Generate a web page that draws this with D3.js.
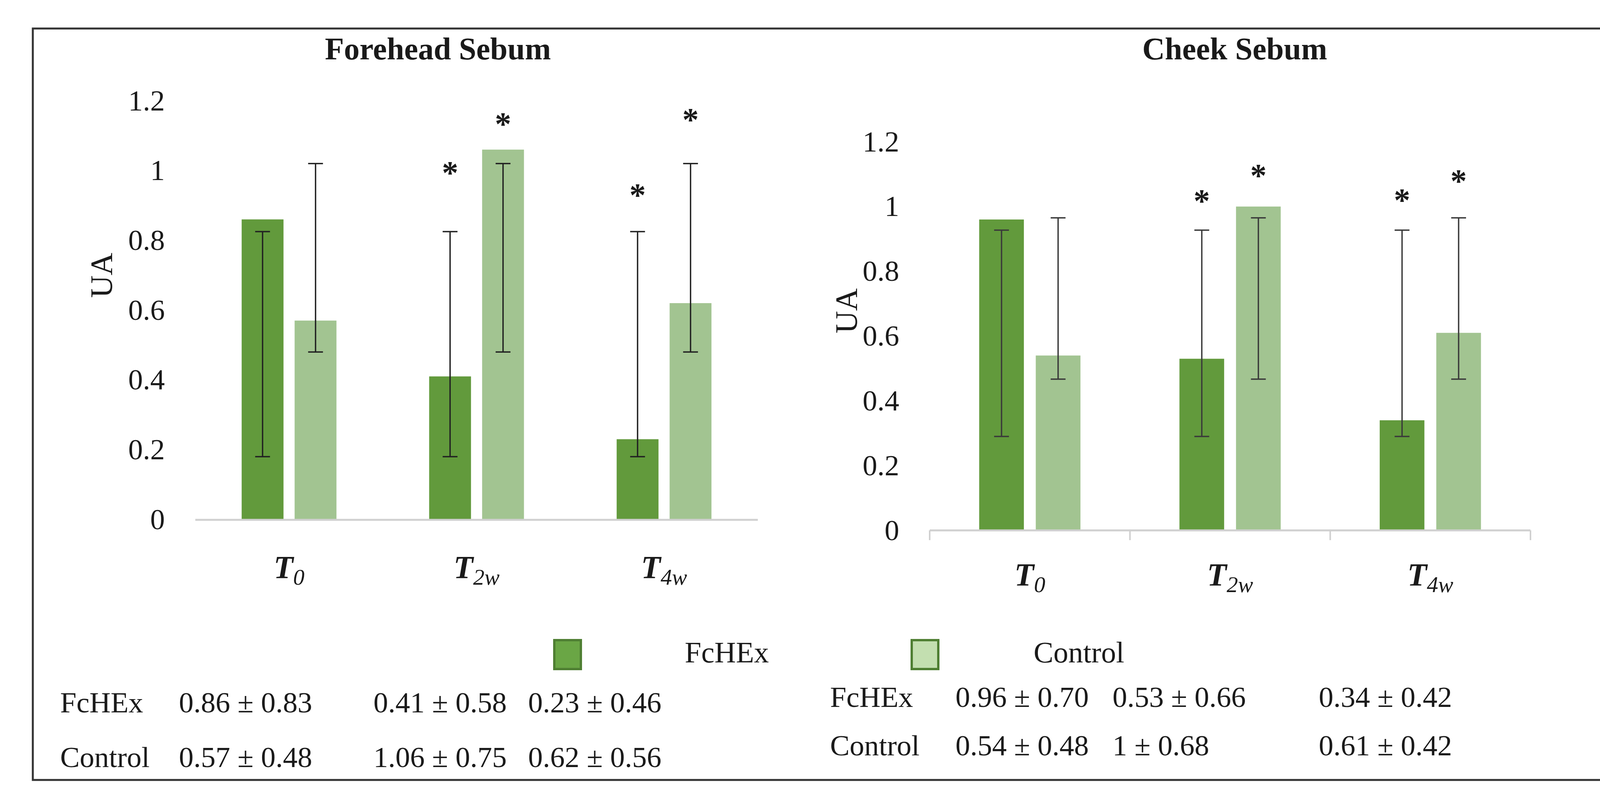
<!DOCTYPE html>
<html>
<head>
<meta charset="utf-8">
<script src="https://cdn.jsdelivr.net/npm/d3@7"></script>
<style>
  html, body { margin: 0; padding: 0; background: #fff; }
  svg { display: block; }
  text { font-family: "Palatino Linotype", "Book Antiqua", Palatino, "Liberation Serif", serif; fill: #1a1a1a; }
</style>
</head>
<body>
<svg id="chart"></svg>
<script>
// ---------------- DATA ----------------
const categories = ["T0", "T2w", "T4w"];
const series = ["FcHEx", "Control"];
const yTicks = [0, 0.2, 0.4, 0.6, 0.8, 1, 1.2];

const foreheadFcHEx = [0.86, 0.41, 0.23];
const foreheadControl = [0.57, 1.06, 0.62];
const foreheadFcHExSD = [0.83, 0.58, 0.46];
const foreheadControlSD = [0.48, 0.75, 0.56];

const cheekFcHEx = [0.96, 0.53, 0.34];
const cheekControl = [0.54, 1, 0.61];
const cheekFcHExSD = [0.70, 0.66, 0.42];
const cheekControlSD = [0.48, 0.68, 0.42];

// error bar ends as drawn in the figure (low, high)
const foreheadFcHExErr = [[0.18, 0.825], [0.18, 0.825], [0.18, 0.825]];
const foreheadControlErr = [[0.48, 1.02], [0.48, 1.02], [0.48, 1.02]];
const cheekFcHExErr = [[0.29, 0.927], [0.29, 0.927], [0.29, 0.927]];
const cheekControlErr = [[0.467, 0.965], [0.467, 0.965], [0.467, 0.965]];

// significance marks (value level of the asterisk, null = none)
const foreheadFcHExStar = [null, 1.006, 0.942];
const foreheadControlStar = [null, 1.146, 1.159];
const cheekFcHExStar = [null, 1.031, 1.033];
const cheekControlStar = [null, 1.109, 1.093];

// ---------------- LAYOUT / STYLE ----------------
const W = 4348, H = 2056;
const colors = { FcHEx: "#629a3c", Control: "#a2c491" };
const legendColors = { FcHEx: "#6aa645", Control: "#c3dfb0" };

const panels = [
  {
    title: "Forehead Sebum", titleX: 1121, titleY: 152,
    xRange: [500, 1940], yRange: [1330, 258], axisY: 1331, ticks: false,
    uaX: 260, uaY: 705, labelY: 1480, errColor: "#222",
    values: { FcHEx: foreheadFcHEx, Control: foreheadControl },
    sds: { FcHEx: foreheadFcHExSD, Control: foreheadControlSD },
    errs: { FcHEx: foreheadFcHExErr, Control: foreheadControlErr },
    stars: { FcHEx: foreheadFcHExStar, Control: foreheadControlStar },
    table: { labelX: 154, colX: [458, 956, 1352], rowY: [1824, 1964] }
  },
  {
    title: "Cheek Sebum", titleX: 3161, titleY: 152,
    xRange: [2380, 3918], yRange: [1358, 363], axisY: 1358, ticks: true,
    uaX: 2167, uaY: 796, labelY: 1499, errColor: "#3a3a3a",
    values: { FcHEx: cheekFcHEx, Control: cheekControl },
    sds: { FcHEx: cheekFcHExSD, Control: cheekControlSD },
    errs: { FcHEx: cheekFcHExErr, Control: cheekControlErr },
    stars: { FcHEx: cheekFcHExStar, Control: cheekControlStar },
    table: { labelX: 2125, colX: [2446, 2848, 3376], rowY: [1810, 1934] }
  }
];

const svg = d3.select("#chart").attr("width", W).attr("height", H)
  .attr("viewBox", `0 0 ${W} ${H}`);

svg.append("rect").attr("width", W).attr("height", H).attr("fill", "#fff");

// outer frame
svg.append("rect")
  .attr("x", 84).attr("y", 73).attr("width", 4181).attr("height", 1924)
  .attr("fill", "none").attr("stroke", "#333").attr("stroke-width", 5);

const fmtMean = v => String(v);
const fmtSD = v => v.toFixed(2);

panels.forEach(p => {
  const g = svg.append("g");
  const x0 = d3.scaleBand().domain(categories).range(p.xRange).paddingInner(0).paddingOuter(0);
  const x1 = d3.scaleBand().domain(series).range([0, x0.bandwidth()])
    .paddingInner(0.21).paddingOuter(0.875);
  const y = d3.scaleLinear().domain([0, 1.2]).range(p.yRange);

  // title
  g.append("text").attr("x", p.titleX).attr("y", p.titleY)
    .attr("text-anchor", "middle").attr("font-size", 80).attr("font-weight", "bold")
    .text(p.title);

  // y axis (labels only)
  const yAxis = d3.axisLeft(y).tickValues(yTicks).tickSize(0).tickPadding(78)
    .tickFormat(d => String(+d.toFixed(1)));
  const ya = g.append("g").attr("transform", `translate(${p.xRange[0]},0)`).call(yAxis);
  ya.select(".domain").remove();
  ya.selectAll("text").attr("font-size", 75).attr("fill", "#1a1a1a")
    .attr("font-family", '"Palatino Linotype","Book Antiqua",Palatino,"Liberation Serif",serif');

  // UA title
  g.append("text").attr("transform", `translate(${p.uaX},${p.uaY}) rotate(-90)`)
    .attr("text-anchor", "middle").attr("dominant-baseline", "central")
    .attr("font-size", 80).text("UA");

  // bars
  series.forEach(s => {
    g.selectAll(null).data(categories).join("rect")
      .attr("x", c => x0(c) + x1(s))
      .attr("width", x1.bandwidth())
      .attr("y", (c, i) => y(p.values[s][i]))
      .attr("height", (c, i) => y(0) - y(p.values[s][i]))
      .attr("fill", colors[s]);
  });

  // x axis line
  g.append("line").attr("x1", p.xRange[0]).attr("x2", p.xRange[1])
    .attr("y1", p.axisY).attr("y2", p.axisY)
    .attr("stroke", "#d0d0d0").attr("stroke-width", 5);
  if (p.ticks) {
    const tickPos = categories.map(c => x0(c)).concat([p.xRange[1]]);
    g.selectAll(null).data(tickPos).join("line")
      .attr("x1", d => d).attr("x2", d => d)
      .attr("y1", p.axisY).attr("y2", p.axisY + 25)
      .attr("stroke", "#d0d0d0").attr("stroke-width", 4);
  }

  // error bars
  const cap = 19;
  series.forEach(s => {
    const eg = g.selectAll(null).data(categories).join("g")
      .attr("transform", c => `translate(${x0(c) + x1(s) + x1.bandwidth() / 2},0)`)
      .attr("stroke", p.errColor).attr("stroke-width", 3.5);
    eg.append("line").attr("x1", 0).attr("x2", 0)
      .attr("y1", (c, i) => y(p.errs[s][i][0])).attr("y2", (c, i) => y(p.errs[s][i][1]));
    eg.append("line").attr("x1", -cap).attr("x2", cap)
      .attr("y1", (c, i) => y(p.errs[s][i][0])).attr("y2", (c, i) => y(p.errs[s][i][0]));
    eg.append("line").attr("x1", -cap).attr("x2", cap)
      .attr("y1", (c, i) => y(p.errs[s][i][1])).attr("y2", (c, i) => y(p.errs[s][i][1]));
  });

  // asterisks
  series.forEach(s => {
    const pts = categories.map((c, i) => ({ c, v: p.stars[s][i] })).filter(d => d.v !== null);
    g.selectAll(null).data(pts).join("text")
      .attr("x", d => x0(d.c) + x1(s) + x1.bandwidth() / 2)
      .attr("y", d => y(d.v) + 40)
      .attr("text-anchor", "middle").attr("font-size", 84).attr("font-weight", "bold")
      .text("*");
  });

  // category labels
  const lbl = g.selectAll(null).data(categories).join("text")
    .attr("x", c => x0(c) + x0.bandwidth() / 2)
    .attr("y", p.labelY)
    .attr("text-anchor", "middle");
  lbl.append("tspan").attr("font-size", 82).attr("font-weight", "bold").attr("font-style", "italic")
    .text(c => c.charAt(0));
  lbl.append("tspan").attr("font-size", 58).attr("font-style", "italic").attr("dy", 17)
    .text(c => c.slice(1));

  // summary table
  series.forEach((s, r) => {
    g.append("text").attr("x", p.table.labelX).attr("y", p.table.rowY[r])
      .attr("font-size", 75).text(s);
    g.selectAll(null).data(categories).join("text")
      .attr("x", (c, i) => p.table.colX[i]).attr("y", p.table.rowY[r])
      .attr("font-size", 75)
      .text((c, i) => `${fmtMean(p.values[s][i])} ± ${fmtSD(p.sds[s][i])}`);
  });
});

// legend
const legendPos = { FcHEx: { sx: 1419, tx: 1753 }, Control: { sx: 2334, tx: 2646 } };
const lg = svg.append("g");
series.forEach(s => {
  lg.append("rect").attr("x", legendPos[s].sx).attr("y", 1639).attr("width", 68).attr("height", 74)
    .attr("fill", legendColors[s]).attr("stroke", "#4f7f33").attr("stroke-width", 6);
  lg.append("text").attr("x", legendPos[s].tx).attr("y", 1696).attr("font-size", 76).text(s);
});
</script>
</body>
</html>
